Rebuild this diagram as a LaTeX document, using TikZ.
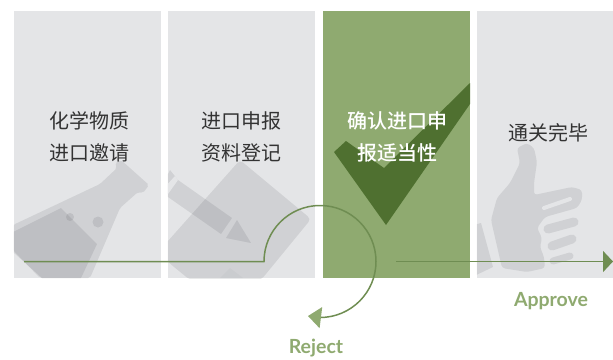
\documentclass[tikz,border=0pt]{standalone}
\usepackage{fontspec}
\setmainfont{Noto Sans CJK SC}[BoldFont={Noto Sans CJK SC Medium}]
\newfontfamily\latinfont{Lato}
\usetikzlibrary{arrows.meta}
\definecolor{boxgray}{HTML}{E4E5E7}
\definecolor{boxgreen}{HTML}{8FAA70}
\definecolor{markgreen}{HTML}{4F7030}
\definecolor{linegreen}{HTML}{6F8D52}
\definecolor{icongray}{HTML}{30353A}
\begin{document}
\begin{tikzpicture}[x=1pt, y=-1pt, node distance=154pt]
    \tikzstyle{box} = [rectangle, fill=boxgray, minimum width=147pt, minimum height=267pt, inner sep=0pt]
    \tikzstyle{icon} = [fill=icongray, fill opacity=0.11, draw=none]
    \tikzstyle{finger} = [draw=icongray, draw opacity=0.11, line cap=round]
    \tikzstyle{steptext} = [align=center, font=\fontsize{20}{32}\selectfont, text=black!80]
    \tikzstyle{result} = [font=\latinfont\bfseries\fontsize{19.5}{22}\selectfont, text=boxgreen]
    \tikzstyle{flow} = [draw=linegreen, line width=1.5pt]
    \useasboundingbox (0,0) rectangle (613,359);

    \node (invite) [box] at (87.5,144.5) {};
    \node (register) [box, right of=invite] {};
    \node (confirm) [box, right of=register, fill=boxgreen, xshift=1pt] {};
    \node (clearance) [box, right of=confirm, minimum width=136pt, node distance=148.5pt] {};

    % flask
    \begin{scope}
        \clip (invite.north west) rectangle (invite.south east);
        \path [icon, rounded corners=2pt] (115,163) -- (121,160) -- (149,185) -- (143,193) -- (138,192) -- (120,208) -- (90,278) -- (40,278) -- (13,250) -- (13,225) -- (100,184) -- (117,168) -- cycle;
        \path [icon] (13,232) -- (61,208) -- (97,244) -- (81,278) -- (42,278) -- (13,252) -- cycle;
        \path [icon] (70,217) circle (4);
        \path [icon] (98,222) circle (5.5);
    \end{scope}
    % paper and pencil
    \begin{scope}
        \clip (register.north west) rectangle (register.south east);
        \path [icon, rounded corners=4pt] (240,160) -- (311,219) -- (261,280) -- (190,280) -- (168,262) -- (160,250) -- cycle;
        \path [icon, fill opacity=0.03] (220,278) -- (230,268) -- (243,278) -- cycle;
        \path [icon] (178,180) -- (232,218) -- (221,234) -- (168,197) -- (160,190) -- (170,170) -- cycle;
        \path [icon] (237,220) -- (251,243) -- (226,238) -- cycle;
        \fill [boxgray] (175,176) -- (178,180) -- (168,194) -- (165,187) -- cycle;
    \end{scope}
    % check mark
    \begin{scope}
        \clip (confirm.north west) rectangle (confirm.south east);
        \fill [markgreen] (470,83) -- (470,104) -- (386,225) -- (334,152) -- (346,141) -- (384,168) -- cycle;
    \end{scope}
    % thumb
    \begin{scope}
        \clip (clearance.north west) rectangle (clearance.south east);
        \path [icon] (470,226) -- (481,223) -- (493,267) -- (470,278) -- cycle;
        \path [icon, rounded corners=3pt] (527,143) -- (517,148) -- (520,163) -- (510,183) -- (497,198) -- (491,220) -- (502,268) -- (527,272) -- (545,268) -- (544,257) -- (540,247) -- (542,238) -- (537,228) -- (545,217) -- (577,208) -- (582,200) -- (582,190) -- (572,187) -- (534,195) -- (534,183) -- (537,162) -- (534,148) -- cycle;
        \draw [boxgray, line width=4pt, line cap=round] (544,208) -- (570,199);
        \draw [finger, line width=9pt] (548,229) -- (574,222);
        \draw [finger, line width=9pt] (552,246) -- (572,239);
        \draw [finger, line width=7pt] (553,261) -- (570,256);
    \end{scope}

    \node (inviteText) [steptext] at (89,137) {化学物质\\进口邀请};
    \node (registerText) [steptext] at (241,137) {进口申报\\资料登记};
    \node (confirmText) [steptext, text=white, font=\fontsize{20}{32}\selectfont\bfseries] at (397,137) {确认进口申\\报适当性};
    \node (clearanceText) [steptext] at (548,133) {通关完毕};
    \node (approve) [result] at (551,301.5) {Approve};
    \node (reject) [result] at (316,348.5) {Reject};

    \coordinate (rejectStart) at (24,261.5);
    \coordinate (rejectBend) at (264,261.5);
    \coordinate (rejectEnd) at (308,316);
    \coordinate (approveStart) at (396,261.5);
    \coordinate (approveEnd) at (613,261.5);

    \draw [flow, -{Triangle[length=13pt, width=21pt, fill=boxgreen, color=boxgreen]}] (rejectStart) -- (rejectBend) arc [start angle=180, end angle=450, radius=56] -- (rejectEnd);
    \draw [flow, -{Triangle[length=10pt, width=21pt, fill=linegreen, color=linegreen]}] (approveStart) -- (approveEnd);

\end{tikzpicture}
\end{document}
